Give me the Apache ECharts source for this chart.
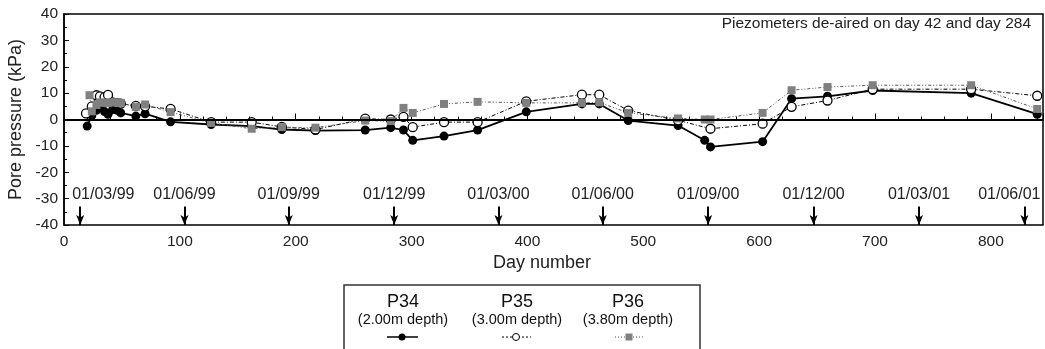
<!DOCTYPE html>
<html>
<head>
<meta charset="utf-8">
<script src="https://cdn.jsdelivr.net/npm/echarts@6/dist/echarts.min.js"></script>
<style>
  html, body { margin: 0; padding: 0; background: #fff; }
  main { width: 1045px; height: 349px; }
</style>
</head>
<body>
<main></main>
<script>
const p34Days = [20, 24, 28, 31, 35, 38, 42, 46, 49, 62, 70, 92, 127, 162, 188, 217, 260, 282, 293, 301, 328, 357, 399, 447, 462, 487, 530, 553, 558, 603, 628, 659, 698, 783, 840]
const p34Values = [-2.5, 1.5, 3.5, 4.5, 3.0, 2.0, 3.8, 3.5, 2.5, 1.3, 2.2, -0.9, -1.9, -2.5, -3.8, -4.2, -4.0, -3.1, -4.0, -7.9, -6.3, -4.0, 2.9, 5.9, 5.9, -0.4, -2.3, -7.9, -10.4, -8.4, 7.9, 8.8, 11.0, 10.0, 2.0]

const p35Days = [19, 24, 28, 31, 35, 38, 42, 46, 49, 62, 70, 92, 127, 162, 188, 217, 260, 282, 293, 301, 328, 357, 399, 447, 462, 487, 530, 558, 603, 628, 659, 698, 783, 840]
const p35Values = [2.3, 5.0, 9.2, 8.8, 8.5, 9.3, 6.5, 6.2, 6.0, 5.2, 5.0, 4.0, -1.0, -1.0, -2.8, -3.8, 0.3, 0.0, 1.0, -2.9, -1.0, -1.0, 6.9, 9.4, 9.4, 3.4, -0.3, -3.5, -1.6, 4.8, 7.2, 11.5, 11.5, 9.0]

const p36Days = [22, 24, 28, 31, 35, 38, 42, 46, 49, 62, 70, 92, 127, 162, 188, 217, 260, 282, 293, 301, 328, 357, 399, 447, 462, 487, 530, 553, 558, 603, 628, 659, 698, 783, 840]
const p36Values = [9.2, 3.1, 5.5, 6.5, 6.3, 6.3, 6.5, 6.5, 6.3, 4.8, 5.7, 2.8, -1.3, -3.5, -2.9, -3.1, -0.4, -0.6, 4.4, 2.5, 5.9, 6.7, 6.3, 6.3, 6.5, 2.5, 0.4, 0.0, 0.0, 2.5, 11.1, 12.3, 13.0, 13.0, 4.0]

const dateLabels = ['01/03/99', '01/06/99', '01/09/99', '01/12/99', '01/03/00', '01/06/00', '01/09/00', '01/12/00', '01/03/01', '01/06/01']
const dateDays = [14, 104, 194, 285, 375, 465, 556, 647, 738, 829]

const piezometers = [
  { name: 'P34', depth: '(2.00m depth)' },
  { name: 'P35', depth: '(3.00m depth)' },
  { name: 'P36', depth: '(3.80m depth)' },
]

;(function () {
  const font = 'Liberation Sans, Arial, sans-serif'
  const pairs = (days, values) => days.map((d, i) => [d, values[i]])

  const chart = echarts.init(document.querySelector('main'))

  const arrows = dateDays.map((d, i) => {
    const start = { coord: [d, -33], name: dateLabels[i], symbol: 'none' }
    // first and last date labels are pushed inside the frame
    if (i === 0) start.label = { align: 'left', offset: [-8, 0] }
    if (i === dateDays.length - 1) start.label = { align: 'right', offset: [16, 0] }
    return [start, { coord: [d, -40], symbol: 'arrow', symbolSize: [6, 10] }]
  })

  // legend drawn by hand: two text rows above a small sample of each line
  const legendX = [403, 517, 628]
  const legendItems = []
  piezometers.forEach((p, i) => {
    const x = legendX[i]
    legendItems.push(
      { type: 'text', x, y: 302, style: { text: p.name, font: `18px ${font}`, fill: '#111', align: 'center', verticalAlign: 'middle' } },
      { type: 'text', x, y: 320, style: { text: p.depth, font: `14.5px ${font}`, fill: '#111', align: 'center', verticalAlign: 'middle' } }
    )
  })
  legendItems.push(
    { type: 'line', shape: { x1: 387, y1: 337, x2: 418, y2: 337 }, style: { stroke: '#000', lineWidth: 1.5 } },
    { type: 'circle', shape: { cx: 402, cy: 337, r: 3.5 }, style: { fill: '#000' } },
    { type: 'line', shape: { x1: 502, y1: 337, x2: 531, y2: 337 }, style: { stroke: '#000', lineWidth: 1, lineDash: [2, 2] } },
    { type: 'circle', shape: { cx: 516, cy: 337, r: 3.5 }, style: { fill: '#fff', stroke: '#000', lineWidth: 1 } },
    { type: 'line', shape: { x1: 615, y1: 337, x2: 643, y2: 337 }, style: { stroke: '#555', lineWidth: 1, lineDash: [1, 2] } },
    { type: 'rect', shape: { x: 625.5, y: 333.5, width: 7, height: 7 }, style: { fill: '#808080' } }
  )

  chart.setOption({
    animation: false,
    textStyle: { fontFamily: font },
    grid: {
      left: 64,
      right: 2,
      top: 14,
      bottom: 124,
      show: true,
      borderColor: '#000',
      borderWidth: 1.5,
      outerBoundsMode: 'none',
    },
    xAxis: {
      type: 'value',
      min: 0,
      max: 845,
      interval: 100,
      axisLine: { lineStyle: { color: '#000', width: 2 } },
      axisTick: { inside: true, length: 6, lineStyle: { color: '#000' } },
      minorTick: { show: true, splitNumber: 5, length: 3, lineStyle: { color: '#000' } },
      splitLine: { show: false },
      axisLabel: { color: '#222', fontSize: 15.5, margin: 9, showMaxLabel: false },
    },
    yAxis: {
      type: 'value',
      min: -40,
      max: 40,
      interval: 10,
      name: 'Pore pressure (kPa)',
      nameLocation: 'middle',
      nameGap: 31,
      nameTextStyle: { color: '#222', fontSize: 18 },
      axisLine: { lineStyle: { color: '#000', width: 1.5 } },
      axisTick: { inside: true, length: 5, lineStyle: { color: '#000' } },
      minorTick: { show: true, splitNumber: 2, length: 3, lineStyle: { color: '#000' } },
      splitLine: { show: false },
      axisLabel: { color: '#222', fontSize: 15.5, margin: 6 },
    },
    graphic: [
      {
        type: 'text', right: 14, top: 16,
        style: { text: 'Piezometers de-aired on day 42 and day 284', font: `15.5px ${font}`, fill: '#222' },
      },
      {
        type: 'text', x: 542, y: 263,
        style: { text: 'Day number', font: `18px ${font}`, fill: '#222', align: 'center', verticalAlign: 'middle' },
      },
      {
        type: 'rect', shape: { x: 344, y: 285, width: 356, height: 80 },
        style: { fill: 'none', stroke: '#333', lineWidth: 1.5 },
      },
      ...legendItems,
    ],
    series: [
      {
        name: 'dates',
        type: 'line',
        data: [],
        markLine: {
          silent: true,
          animation: false,
          lineStyle: { color: '#000', width: 2, type: 'solid' },
          label: { show: true, position: 'start', formatter: '{b}', color: '#222', fontSize: 16, distance: 4 },
          data: arrows,
        },
      },
      {
        name: 'P34',
        type: 'line',
        data: pairs(p34Days, p34Values),
        symbol: 'circle',
        symbolSize: 9,
        itemStyle: { color: '#000' },
        lineStyle: { color: '#000', width: 1.8 },
        markLine: {
          silent: true,
          symbol: 'none',
          label: { show: false },
          lineStyle: { color: '#000', width: 2, type: 'solid' },
          data: [{ yAxis: 0 }],
        },
      },
      {
        name: 'P35',
        type: 'line',
        data: pairs(p35Days, p35Values),
        symbol: 'circle',
        symbolSize: 9,
        itemStyle: { color: '#fff', borderColor: '#000', borderWidth: 1.3 },
        lineStyle: { color: '#000', width: 1, type: [4, 2, 1, 2] },
      },
      {
        name: 'P36',
        type: 'line',
        data: pairs(p36Days, p36Values),
        symbol: 'rect',
        symbolSize: 8,
        itemStyle: { color: '#808080' },
        lineStyle: { color: '#555', width: 1, type: [3, 2, 1, 2, 1, 2] },
      },
    ],
  })
})()
</script>
</body>
</html>
